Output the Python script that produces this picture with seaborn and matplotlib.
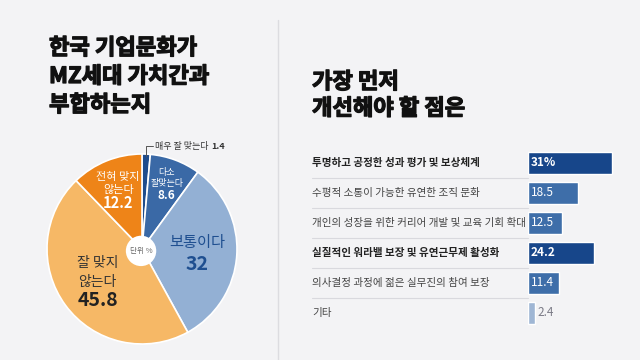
import numpy as np
import pandas as pd
import matplotlib
matplotlib.use("Agg")
import matplotlib.pyplot as plt
from matplotlib.lines import Line2D
from matplotlib.patches import Circle
import matplotlib.transforms as mtrans
import matplotlib.patheffects as pe
import seaborn as sns

# ---------------- data ----------------
left_title = ["한국 기업문화가", "MZ세대 가치간과", "부합하는지"]
right_title = ["가장 먼저", "개선해야 할 점은"]

pie_labels = ["매우 잘 맞는다", "다소 잘맞는다", "보통이다", "잘 맞지 않는다", "전혀 맞지 않는다"]
pie_values = [1.4, 8.6, 32, 45.8, 12.2]
pie_colors = ["#1f4c8c", "#3a69a6", "#93b0d4", "#f6b866", "#ee8418"]

bar_categories = [
    "투명하고 공정한 성과 평가 및 보상체계",
    "수평적 소통이 가능한 유연한 조직 문화",
    "개인의 성장을 위한 커리어 개발 및 교육 기회 확대",
    "실질적인 워라밸 보장 및 유연근무제 활성화",
    "의사결정 과정에 젊은 실무진의 참여 보장",
    "기타",
]
bar_values = [31, 18.5, 12.5, 24.2, 11.4, 2.4]
bar_value_labels = ["31%", "18.5", "12.5", "24.2", "11.4", "2.4"]
bar_bold = [True, False, False, True, False, False]
bar_colors = ["#17468a", "#3e6ea9", "#3e6ea9", "#17468a", "#3e6ea9", "#9fb6d4"]

# ---------------- style ----------------
sns.set_theme(style="white")
plt.rcParams["font.family"] = ["Noto Sans CJK KR", "DejaVu Sans"]

W, H = 640, 360
BG = "#f3f3f5"
fig = plt.figure(figsize=(6.4, 3.6), dpi=100, facecolor=BG)

def fx(px):
    return px / W

def fy(py):
    return 1 - py / H

# divider
fig.add_artist(Line2D([fx(278), fx(278)], [fy(20), 0], transform=fig.transFigure,
                      color="#dcdce0", lw=1))

# titles (extra stroke to mimic a black weight)
heavy = [pe.withStroke(linewidth=0.9, foreground="#111111")]
for i, t in enumerate(left_title):
    fig.text(fx(49), fy(48 + i * 28.5), t, fontsize=16, fontweight="bold",
             color="#111111", ha="left", va="center", path_effects=heavy)
for i, t in enumerate(right_title):
    fig.text(fx(312), fy(82 + i * 26.5), t, fontsize=16, fontweight="bold",
             color="#111111", ha="left", va="center", path_effects=heavy)

# ---------------- pie ----------------
cx, cy, R = 142, 249, 95
axp = fig.add_axes([fx(cx - R), fy(cy + R), 2 * R / W, 2 * R / H])
axp.set_facecolor("none")
wedges, _ = axp.pie(pie_values, colors=pie_colors, startangle=90, counterclock=False,
                    radius=1, wedgeprops=dict(edgecolor="white", linewidth=1.2))
axp.set_xlim(-1, 1)
axp.set_ylim(-1, 1)
axp.set_aspect("equal")
axp.axis("off")
axp.add_patch(Circle((-0.01, -0.02), 0.16, facecolor="white", edgecolor="none", zorder=5))
axp.text(-0.01, -0.02, "단위 %", fontsize=5.5, color="#666666", ha="center", va="center", zorder=6)

cum = np.cumsum([0] + pie_values[:-1])
mids = [(c + v / 2) / sum(pie_values) * 2 * np.pi for c, v in zip(cum, pie_values)]

def anchor(i, r):
    a = mids[i]
    return (r * np.sin(a), r * np.cos(a))

# label specs: (slice index, radius, [(text, dy_px, size, weight, color)])
specs = [
    (1, 0.74, [("다소", 11, 6.5, "normal", "white"), ("잘맞는다", 0, 6.5, "normal", "white"),
               ("8.6", -12, 8.5, "bold", "white")]),
    (4, 0.67, [("전혀 맞지", 13, 8, "normal", "white"), ("않는다", 0, 8, "normal", "white"),
               ("12.2", -13, 10.5, "bold", "white")]),
    (2, 0.58, [("보통이다", 10, 11, "normal", "#1f4f90"), ("32", -12, 14, "bold", "#1f4f90")]),
    (3, 0.58, [("잘 맞지", 19, 10, "normal", "#333333"), ("않는다", 0, 10, "normal", "#333333"),
               ("45.8", -19, 14, "bold", "#222222")]),
]
for idx, r, lines in specs:
    ax_, ay_ = anchor(idx, r)
    for txt, dy, sz, wt, col in lines:
        axp.annotate(txt, xy=(ax_, ay_), xytext=(0, dy), textcoords="offset pixels",
                     ha="center", va="center", fontsize=sz, fontweight=wt, color=col, zorder=7)

# leader for small slice
lx, ly = anchor(0, 1.0)
top = (ly + 0.08)
axp.add_line(Line2D([lx, lx, lx + 0.07], [ly - 0.02, top, top], color="#555555", lw=0.7,
                    clip_on=False))
t0 = axp.annotate(pie_labels[0], xy=(lx + 0.09, top), xytext=(0, 0), textcoords="offset pixels",
                  ha="left", va="center", fontsize=6.5, color="#333333", annotation_clip=False)
fig.canvas.draw()
w0 = t0.get_window_extent().width
axp.annotate(f"{pie_values[0]}", xy=(lx + 0.09, top), xytext=(w0 + 3, 0), textcoords="offset pixels",
             ha="left", va="center", fontsize=6.5, fontweight="bold", color="#333333",
             annotation_clip=False)

# ---------------- bars ----------------
bx0 = 528
scale = 2.71  # px per unit
xmax = 40
axb = fig.add_axes([fx(bx0), fy(328), xmax * scale / W, 180 / H])
axb.set_facecolor("none")
df = pd.DataFrame({"cat": bar_categories, "val": bar_values})
sns.barplot(data=df, x="val", y="cat", hue="cat", palette=bar_colors, legend=False,
            width=0.73, saturation=1, ax=axb)
axb.set_xlim(0, xmax)
axb.set_ylim(5.5, -0.5)
axb.axis("off")

blend = mtrans.blended_transform_factory(fig.transFigure, axb.transData)
for i, (cat, v, lab, b) in enumerate(zip(bar_categories, bar_values, bar_value_labels, bar_bold)):
    fig.text(fx(312), i, cat, transform=blend, ha="left", va="center", fontsize=7.6,
             fontweight="bold" if b else "normal", color="#222222" if b else "#444444")
    if v >= 5:
        axb.annotate(lab, xy=(0, i), xytext=(3, 0), textcoords="offset pixels", ha="left",
                     va="center", fontsize=8.5, color="white",
                     fontweight="bold" if b else "normal")
    else:
        axb.annotate(lab, xy=(v, i), xytext=(3, 0), textcoords="offset pixels", ha="left",
                     va="center", fontsize=8.5, color="#7a7a86")
    if i < len(bar_categories) - 1:
        fig.add_artist(Line2D([fx(312), fx(bx0)], [i + 0.5, i + 0.5], transform=blend,
                              color="#d9d9de", lw=0.8))

fig.savefig("out.png", dpi=100, facecolor=BG)
